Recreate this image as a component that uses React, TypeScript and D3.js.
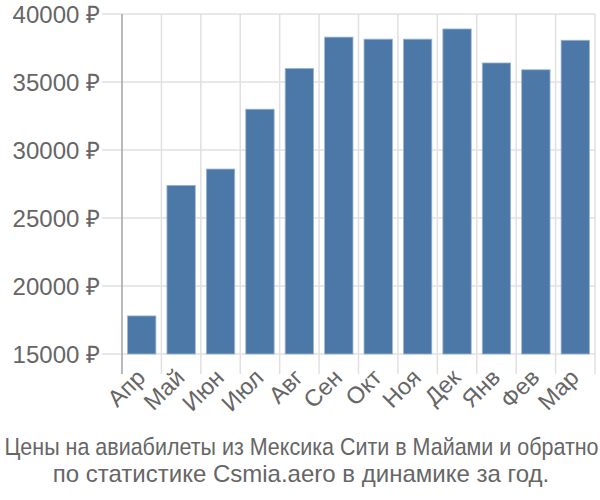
import React from "react";
import * as d3 from "d3";

const months = ["Апр", "Май", "Июн", "Июл", "Авг", "Сен", "Окт", "Ноя", "Дек", "Янв", "Фев", "Мар"];
const prices = [17800, 27400, 28600, 33000, 36000, 38300, 38150, 38150, 38900, 36400, 35900, 38070];
const yTicks = [15000, 20000, 25000, 30000, 35000, 40000];
const titleLines = [
  "Цены на авиабилеты из Мексика Сити в Майами и обратно",
  "по статистике Csmia.aero в динамике за год.",
];

const W = 600;
const H = 500;
const left = 122;
const right = 595;
const top = 14;
const bottom = 354;

export default function App() {
  const x = d3.scaleBand<string>().domain(months).range([left, right]).paddingInner(0.28).paddingOuter(0.14);
  const xb = d3.scaleBand<string>().domain(months).range([left, right]);
  const y = d3.scaleLinear().domain([15000, 40000]).range([bottom, top]);
  const font = "'Liberation Sans', Arial, sans-serif";
  return (
    <svg width={W} height={H} style={{ position: "absolute", left: 0, top: 0 }}>
      <rect width={W} height={H} fill="#fff" />
      {yTicks.map((t) => (
        <g key={t}>
          <line x1={102} x2={right} y1={y(t)} y2={y(t)} stroke="#e0e0e0" strokeWidth={1.5} />
          <text x={100} y={y(t)} dy="0.36em" textAnchor="end" fontFamily={font} fontSize={24} fill="#666">
            {`${t} ₽`}
          </text>
        </g>
      ))}
      {months.map((m) => (
        <line key={m} x1={xb(m)!} x2={xb(m)!} y1={top} y2={374} stroke="#e0e0e0" strokeWidth={1.5} />
      ))}
      <line x1={right} x2={right} y1={top} y2={374} stroke="#e0e0e0" strokeWidth={1.5} />
      <line x1={left} x2={left} y1={top} y2={374} stroke="#aaa" strokeWidth={1.5} />
      {months.map((m, i) => (
        <rect
          key={m}
          x={x(m)}
          y={y(prices[i])}
          width={x.bandwidth()}
          height={bottom - y(prices[i])}
          fill="#4c78a8"
          stroke="#9fb6d0"
          strokeWidth={0.8}
        />
      ))}
      {months.map((m) => {
        const cx = xb(m)! + xb.bandwidth() / 2 + 5;
        return (
          <text
            key={m}
            transform={`translate(${cx},${379}) rotate(-45)`}
            textAnchor="end"
            fontFamily={font}
            fontSize={23.5}
            fill="#666"
          >
            {m}
          </text>
        );
      })}
      <text
        transform={`translate(${W / 2 + 1.5},455) scale(0.895,1)`}
        textAnchor="middle"
        fontFamily={font}
        fontSize={24}
        fill="#666"
      >
        {titleLines[0]}
      </text>
      <text x={W / 2 + 1} y={482} textAnchor="middle" fontFamily={font} fontSize={24} fill="#666">
        {titleLines[1]}
      </text>
    </svg>
  );
}
